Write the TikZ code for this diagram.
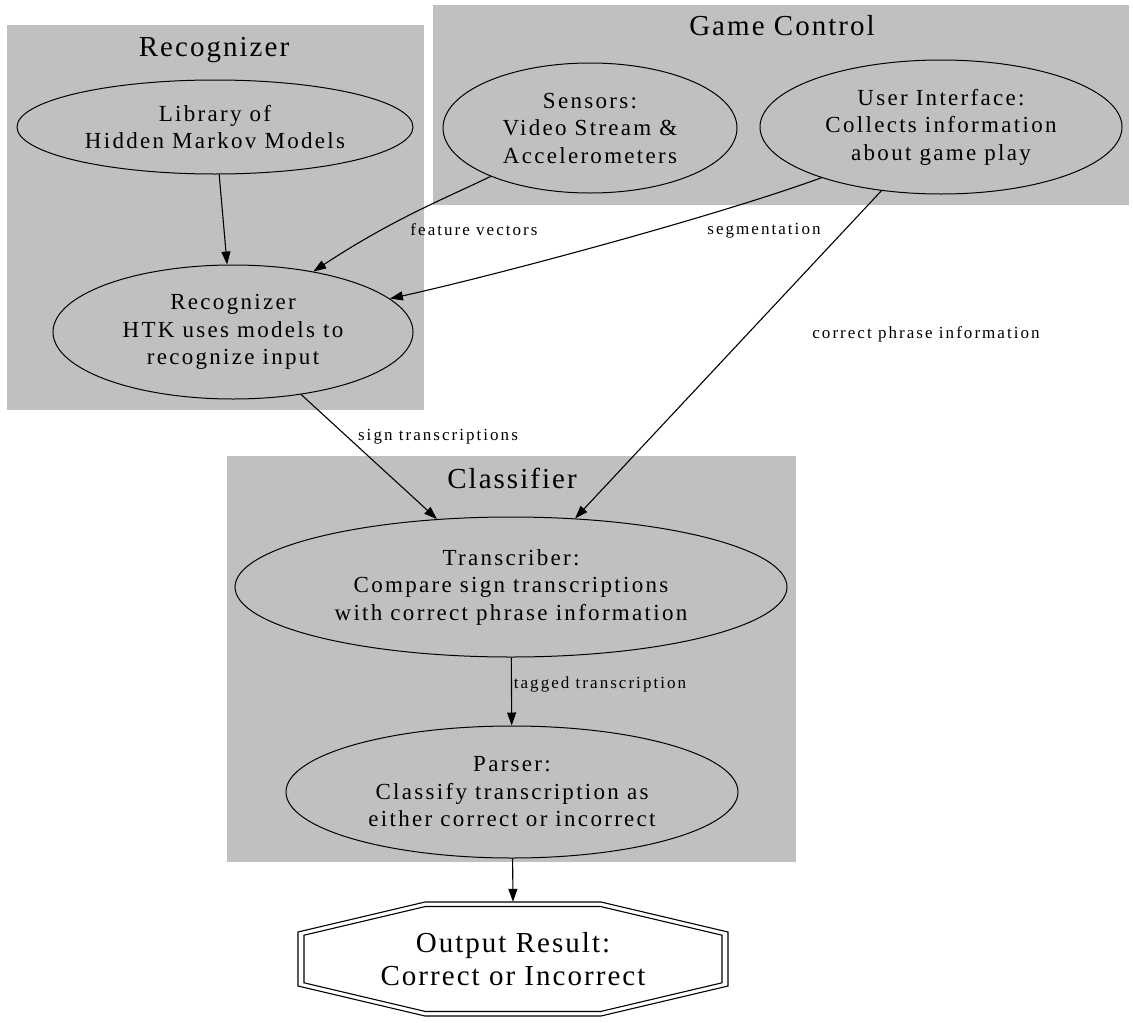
\documentclass[tikz,border=0pt]{standalone}
\usepackage{fontspec}
\setmainfont{Liberation Serif}
\newfontfamily\nodefont{Liberation Serif}[LetterSpace=10]
\newfontfamily\edgefont{Liberation Serif}[LetterSpace=12]
\newfontfamily\clusterfont{Liberation Serif}[LetterSpace=7]
\usetikzlibrary{shapes.geometric,arrows.meta}
\definecolor{clgray}{RGB}{192,192,192}
\begin{document}
\begin{tikzpicture}[x=1pt,y=-1pt,
  cluster/.style={fill=clgray,draw=none},
  gnode/.style={ellipse,draw,line width=1pt,inner sep=0pt,align=center,
    font=\nodefont\fontsize{23}{27.5}\selectfont},
  elabel/.style={font=\edgefont\fontsize{17}{20}\selectfont,anchor=base,inner sep=0pt},
  clabel/.style={font=\clusterfont\fontsize{29}{34}\selectfont,anchor=base,inner sep=0pt},
  conn/.style={-{Triangle[length=13pt,width=9pt]},line width=1.1pt},
  octline/.style={line width=1.1pt}]
\useasboundingbox (0,0) rectangle (1133,1023);
\fill[white] (0,0) rectangle (1133,1023);
% clusters
\path[cluster] (7,25) rectangle (424,410);
\path[cluster] (433,5) rectangle (1129,205);
\path[cluster] (227,456) rectangle (796,862);
\node[clabel] (cRec) at (214,56) {Recognizer};
\node[clabel] (cGame) at (782,35) {Game Control};
\node[clabel] (cCls) at (512,488) {Classifier};
% nodes
\node[gnode,minimum width=396,minimum height=94] (lib) at (215,127) {Library of\\Hidden Markov Models};
\node[gnode,minimum width=360,minimum height=134] (rec) at (233,332) {Recognizer\\HTK uses models to\\recognize input};
\node[gnode,minimum width=294,minimum height=130] (sens) at (590,128) {Sensors:\\Video Stream \&\\Accelerometers};
\node[gnode,minimum width=362,minimum height=134] (ui) at (941,127) {User Interface:\\Collects information\\about game play};
\node[gnode,minimum width=552,minimum height=140] (trans) at (511,587) {Transcriber:\\Compare sign transcriptions\\with correct phrase information};
\node[gnode,minimum width=452,minimum height=132] (pars) at (512,792) {Parser:\\Classify transcription as\\either correct or incorrect};
\node[rectangle,inner sep=0pt,minimum width=430,minimum height=114,align=center,
  font=\clusterfont\fontsize{29}{33}\selectfont] (out) at (513,959) {Output Result:\\Correct or Incorrect};
\begin{scope}[shift={(out.center)}]
\draw[octline] (-88,-57) -- (88,-57) -- (215,-27) -- (215,27) -- (88,57) -- (-88,57) -- (-215,27) -- (-215,-27) -- cycle;
\draw[octline] (-87.5,-52.5) -- (87.5,-52.5) -- (209,-23.8) -- (209,23.8) -- (87.5,52.5) -- (-87.5,52.5) -- (-209,23.8) -- (-209,-23.8) -- cycle;
\end{scope}
% edges
\draw[conn] (lib) -- (rec);
\draw[conn] (sens.206) .. controls +(-48,23) and +(79,-52) .. (rec.37);
\draw[conn] (ui.203) .. controls +(-110,40) and +(100,-22) .. (rec.12);
\draw[conn] (ui) -- (trans);
\draw[conn] (rec) -- (trans);
\draw[conn] (trans) -- (pars);
\draw[conn] (pars) -- (out.north);
% edge labels
\node[elabel] (lfv) at (474,235) {feature vectors};
\node[elabel] (lseg) at (764,234) {segmentation};
\node[elabel] (lcpi) at (926,338) {correct phrase information};
\node[elabel] (lst) at (438,440) {sign transcriptions};
\node[elabel] (ltt) at (600,688) {tagged transcription};
\end{tikzpicture}
\end{document}
